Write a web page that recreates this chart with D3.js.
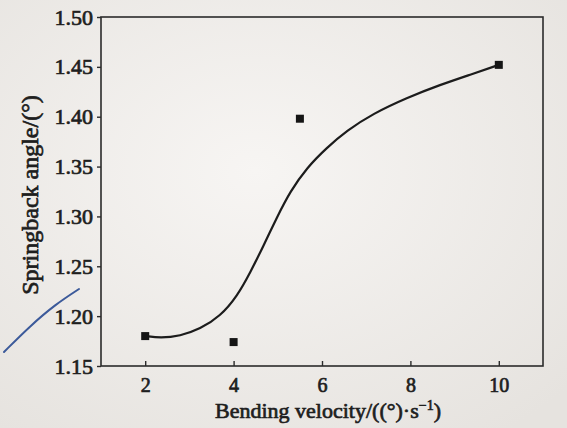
<!DOCTYPE html>
<html>
<head>
<meta charset="utf-8">
<script src="https://cdn.jsdelivr.net/npm/d3@7"></script>
</head>
<body style="margin:0">
<div id="chart"></div>
<script>
// measured points
var velocity = [2, 4, 5.5, 10]
var springback = [1.180, 1.174, 1.398, 1.452]

// fitted curve
var fit_x = [2.02, 2.34, 2.79, 3.24, 3.70, 4.08, 4.38, 4.67, 4.99, 5.28, 5.66, 6.11, 6.56, 7.15, 7.92, 8.67, 9.41, 10.0]
var fit_y = [1.180, 1.178, 1.180, 1.187, 1.200, 1.220, 1.244, 1.270, 1.300, 1.325, 1.349, 1.369, 1.386, 1.403, 1.419, 1.432, 1.443, 1.452]

var x_ticks = [2, 4, 6, 8, 10]
var y_ticks = [1.15, 1.20, 1.25, 1.30, 1.35, 1.40, 1.45, 1.50]

var serif = "'Liberation Serif', 'Times New Roman', serif"
var width = 567, height = 428
var svg = d3.select("#chart")
  .append("svg")
  .attr("width", width)
  .attr("height", height)

// printed text looks heavy in the photo: regular serif with a thin outline
function ink(sel, size){
  sel.attr("font-family", serif)
    .style("font-family", serif)
    .style("font-size", size + "px")
    .style("font-weight", "normal")
    .attr("fill", "#1e1e1e")
    .attr("stroke", "#1e1e1e")
    .attr("stroke-width", 0.7)
}

// paper shading
var grad = svg.append("defs").append("radialGradient")
  .attr("id", "paper")
  .attr("cx", "45%").attr("cy", "40%").attr("r", "75%")
grad.append("stop").attr("offset", "0%").attr("stop-color", "#f7f5f3")
grad.append("stop").attr("offset", "100%").attr("stop-color", "#e6e3df")
svg.append("rect")
  .attr("width", width)
  .attr("height", height)
  .attr("fill", "url(#paper)")

var x = d3.scaleLinear()
    .domain([1, 11])
    .range([101, 543])
var y = d3.scaleLinear()
    .domain([1.15, 1.50])
    .range([366, 17])

var g = svg.append("g")

// frame
g.append("rect")
  .attr("x", x(1))
  .attr("y", y(1.50))
  .attr("width", x(11) - x(1))
  .attr("height", y(1.15) - y(1.50))
  .attr("fill", "none")
  .attr("stroke", "#2b2b2b")
  .attr("stroke-width", 1.6)

// x axis, ticks inward
var xAxis = g.append("g")
  .attr("transform", "translate(0," + y(1.15) + ")")
  .call(d3.axisBottom(x).tickValues(x_ticks).tickSizeInner(-5).tickSizeOuter(0).tickPadding(12))
xAxis.attr("font-family", serif)
xAxis.select(".domain").remove()
xAxis.selectAll("line").attr("stroke", "#2b2b2b").attr("stroke-width", 1.4)
ink(xAxis.selectAll("text"), 20)

// y axis, ticks outward
var yAxis = g.append("g")
  .attr("transform", "translate(" + x(1) + ",0)")
  .call(d3.axisLeft(y).tickValues(y_ticks).tickFormat(d3.format(".2f")).tickSizeInner(4).tickSizeOuter(0).tickPadding(4))
yAxis.attr("font-family", serif)
yAxis.select(".domain").remove()
yAxis.selectAll("line").attr("stroke", "#2b2b2b").attr("stroke-width", 1.4)
ink(yAxis.selectAll("text"), 22)

// fitted curve
var fit = fit_x.map(function(d, i){ return [d, fit_y[i]] })
g.append("path")
  .datum(fit)
  .attr("d", d3.line()
    .x(function(d){ return x(d[0]) })
    .y(function(d){ return y(d[1]) })
    .curve(d3.curveBasis))
  .attr("fill", "none")
  .attr("stroke", "#1c1c1c")
  .attr("stroke-width", 2.2)

// points
var pts = velocity.map(function(d, i){ return [d, springback[i]] })
g.selectAll("rect.pt")
  .data(pts)
  .enter()
  .append("rect")
  .attr("class", "pt")
  .attr("x", function(d){ return x(d[0]) - 4 })
  .attr("y", function(d){ return y(d[1]) - 4 })
  .attr("width", 8)
  .attr("height", 8)
  .attr("fill", "#151515")

// axis titles
var xt = svg.append("text")
  .attr("x", 328)
  .attr("y", 418)
  .attr("text-anchor", "middle")
ink(xt, 22)
xt.append("tspan").text("Bending velocity/((°)·s")
xt.append("tspan").attr("dy", -8).style("font-size", "14px").text("−1")
xt.append("tspan").attr("dy", 8).text(")")

var yt = svg.append("text")
  .attr("transform", "translate(38,195) rotate(-90)")
  .attr("text-anchor", "middle")
  .text("Springback angle/(°)")
ink(yt, 24)

// blue pen stroke on the page
svg.append("path")
  .attr("d", d3.line().curve(d3.curveBasis)([[4, 352], [30, 326], [56, 304], [79, 289]]))
  .attr("fill", "none")
  .attr("stroke", "#3c5a9a")
  .attr("stroke-width", 2)
  .attr("stroke-linecap", "round")
</script>
</body>
</html>
